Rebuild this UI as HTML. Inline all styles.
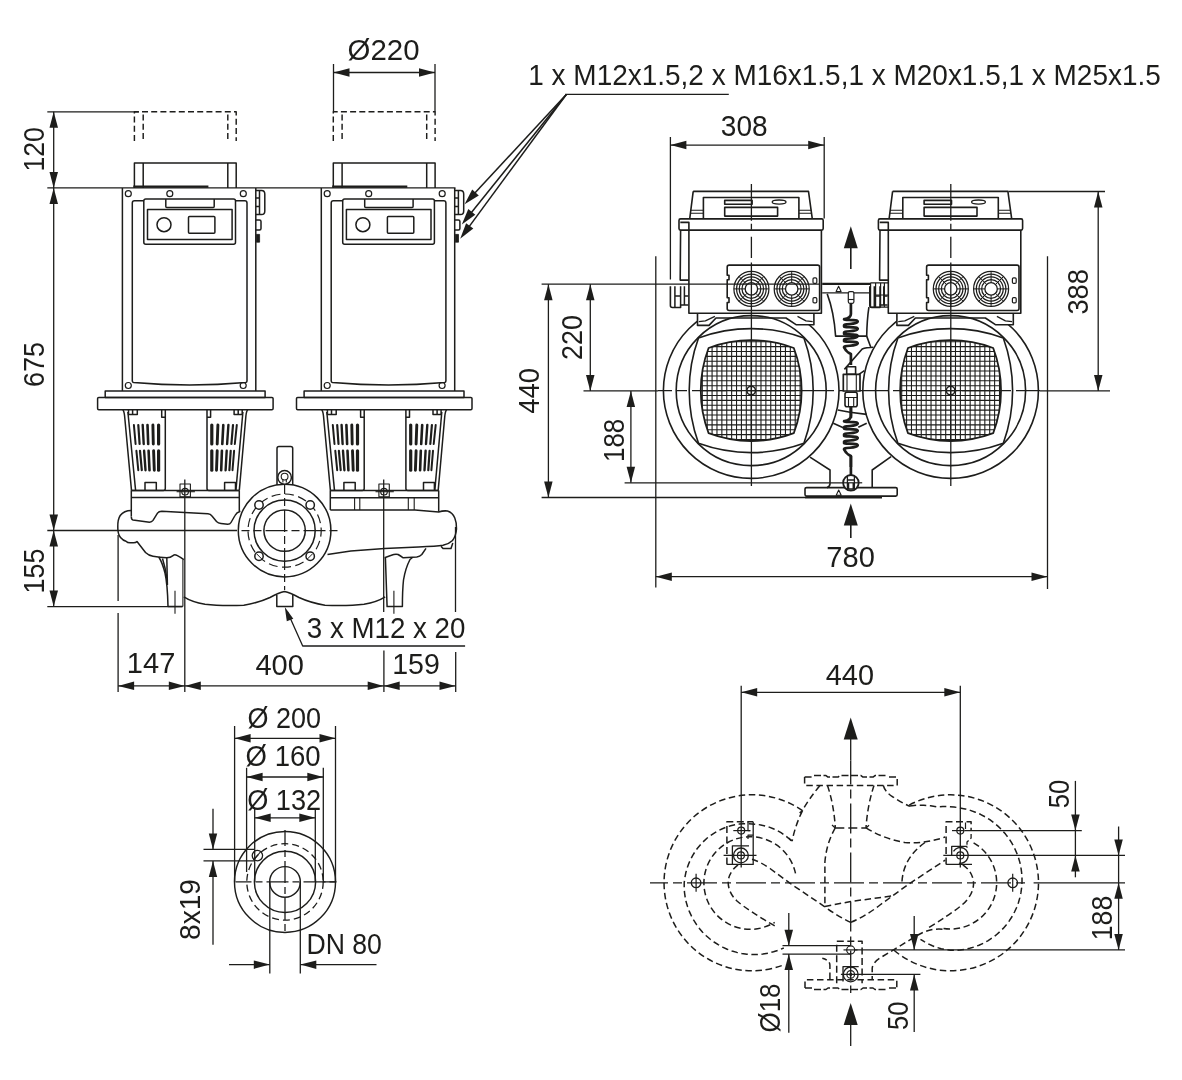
<!DOCTYPE html>
<html><head><meta charset="utf-8"><title>Pump dimension drawing</title>
<style>
html,body{margin:0;padding:0;background:#fff;}
body{width:1182px;height:1080px;overflow:hidden;font-family:"Liberation Sans",sans-serif;}
svg{display:block;will-change:transform}
svg text{font-family:"Liberation Sans",sans-serif;fill:#1d1d1b;stroke:none;}
</style></head><body>
<svg width="1182" height="1080" viewBox="0 0 1182 1080" fill="none" stroke="#1d1d1b" stroke-width="1.5" stroke-linecap="butt" stroke-linejoin="round">
<rect x="0" y="0" width="1182" height="1080" fill="#fff" stroke="none"/>
<g id="dims-front" stroke-width="1.3">
<line x1="47.3" y1="111.8" x2="139.0" y2="111.8" />
<line x1="47.3" y1="187.9" x2="455.5" y2="187.9" />
<line x1="53.7" y1="111.8" x2="53.7" y2="187.9" stroke-width="1.3" />
<polygon points="53.7,187.9 49.5,171.9 58.0,171.9" fill="#1d1d1b" stroke="none"/>
<polygon points="53.7,111.8 58.0,127.8 49.5,127.8" fill="#1d1d1b" stroke="none"/>
<line x1="53.7" y1="187.9" x2="53.7" y2="530.5" stroke-width="1.3" />
<polygon points="53.7,530.5 49.5,514.5 58.0,514.5" fill="#1d1d1b" stroke="none"/>
<polygon points="53.7,187.9 58.0,203.9 49.5,203.9" fill="#1d1d1b" stroke="none"/>
<line x1="53.7" y1="530.5" x2="53.7" y2="606.6" stroke-width="1.3" />
<polygon points="53.7,606.6 49.5,590.6 58.0,590.6" fill="#1d1d1b" stroke="none"/>
<polygon points="53.7,530.5 58.0,546.5 49.5,546.5" fill="#1d1d1b" stroke="none"/>
<line x1="47.3" y1="530.5" x2="237.0" y2="530.5" />
<line x1="47.3" y1="606.6" x2="182.0" y2="606.6" />
<text x="44.5" y="171.6" font-size="29.5" transform="rotate(-90 44.5 171.6)" textLength="44.5" lengthAdjust="spacingAndGlyphs">120</text>
<text x="43.8" y="387.0" font-size="29.5" transform="rotate(-90 43.8 387.0)" textLength="45" lengthAdjust="spacingAndGlyphs">675</text>
<text x="44.5" y="593.6" font-size="29.5" transform="rotate(-90 44.5 593.6)" textLength="45" lengthAdjust="spacingAndGlyphs">155</text>
<line x1="118.1" y1="535.0" x2="118.1" y2="601.0" />
<line x1="118.1" y1="613.0" x2="118.1" y2="692.0" />
<line x1="184.8" y1="479.5" x2="184.8" y2="692.0" />
<line x1="383.7" y1="479.5" x2="383.7" y2="612.0" />
<line x1="383.9" y1="650.6" x2="383.9" y2="692.0" />
<line x1="455.5" y1="527.0" x2="455.5" y2="612.0" />
<line x1="455.7" y1="652.0" x2="455.7" y2="692.0" />
<line x1="118.1" y1="685.9" x2="184.8" y2="685.9" stroke-width="1.3" />
<polygon points="184.8,685.9 168.8,690.1 168.8,681.6" fill="#1d1d1b" stroke="none"/>
<polygon points="118.1,685.9 134.1,681.6 134.1,690.1" fill="#1d1d1b" stroke="none"/>
<line x1="184.8" y1="685.9" x2="383.7" y2="685.9" stroke-width="1.3" />
<polygon points="383.7,685.9 367.7,690.1 367.7,681.6" fill="#1d1d1b" stroke="none"/>
<polygon points="184.8,685.9 200.8,681.6 200.8,690.1" fill="#1d1d1b" stroke="none"/>
<line x1="383.7" y1="685.9" x2="455.5" y2="685.9" stroke-width="1.3" />
<polygon points="455.5,685.9 439.5,690.1 439.5,681.6" fill="#1d1d1b" stroke="none"/>
<polygon points="383.7,685.9 399.7,681.6 399.7,690.1" fill="#1d1d1b" stroke="none"/>
<text x="126.8" y="673.0" font-size="29" textLength="48.5" lengthAdjust="spacingAndGlyphs">147</text>
<text x="255.4" y="675.2" font-size="29" textLength="48.5" lengthAdjust="spacingAndGlyphs">400</text>
<text x="392.2" y="673.5" font-size="29" textLength="47.7" lengthAdjust="spacingAndGlyphs">159</text>
<text x="306.8" y="637.9" font-size="29" textLength="158.5" lengthAdjust="spacingAndGlyphs">3 x M12 x 20</text>
<path d="M465.1,646 L302.7,646 L287.5,612" />
<polygon points="284.8,607.0 293.3,618.7 286.8,621.3" fill="#1d1d1b" stroke="none"/>
<line x1="333.5" y1="64.0" x2="333.5" y2="111.8" />
<line x1="435.0" y1="64.0" x2="435.0" y2="111.8" />
<line x1="333.5" y1="72.5" x2="435.0" y2="72.5" stroke-width="1.3" />
<polygon points="435.0,72.5 419.0,76.8 419.0,68.2" fill="#1d1d1b" stroke="none"/>
<polygon points="333.5,72.5 349.5,68.2 349.5,76.8" fill="#1d1d1b" stroke="none"/>
<text x="347.6" y="60.2" font-size="28.8" textLength="72" lengthAdjust="spacingAndGlyphs">Ø220</text>
</g>
<g id="front">
<g transform="translate(0,0)">
<path d="M134.4,141 V111.8 H236.2 V141" stroke-width="1.45" stroke-dasharray="6 3.2" />
<path d="M143.2,139 V111.8 M227.8,139 V111.8" stroke-width="1.45" stroke-dasharray="6 3.2" />
<path d="M134.4,187.9 V163.1 H236.2 V187.9" />
<path d="M143.2,163.1 V187.9 M227.8,163.1 V187.9" />
<line x1="133.3" y1="186.6" x2="208.4" y2="186.6" stroke-width="2.4" />
<path d="M122.4,187.9 V391 M255.8,187.9 V391" />
<path d="M143.8,200.8 H134.5 Q132.3,200.8 132.3,203 V381 Q132.3,382.3 133.6,382.5 Q189.6,387.5 245.7,382.5 Q247,382.3 247,381 V203 Q247,200.8 244.8,200.8 H235.5" />
<circle cx="128.3" cy="193.7" r="3.0" stroke-width="1.2" />
<circle cx="169.8" cy="193.7" r="3.0" stroke-width="1.2" />
<circle cx="243.3" cy="193.7" r="3.0" stroke-width="1.2" />
<circle cx="128.3" cy="385.5" r="3.0" stroke-width="1.2" />
<circle cx="243.2" cy="385.5" r="3.0" stroke-width="1.2" />
<rect x="143.8" y="199.0" width="91.7" height="45.3" rx="2"/>
<rect x="147.5" y="209.5" width="84.6" height="30.1"/>
<path d="M165.8,199 V206.5 Q165.8,207.5 166.8,207.5 H213.2 Q214.2,207.5 214.2,206.5 V199" />
<circle cx="164.0" cy="224.7" r="7.0" />
<rect x="188.5" y="216.6" width="26.4" height="16.6" rx="1"/>
<path d="M255.8,190.5 H261.5 Q264.8,190.5 264.8,194 V211 Q264.8,214.6 261.5,214.6 H255.8 M259.5,190.5 V214.6 M255.8,198 H259.5 M255.8,206.5 H259.5" />
<path d="M255.8,220 H259.5 Q261,220 261,221.5 V228.5 Q261,230 259.5,230 H255.8" />
<rect x="256.4" y="234.4" width="3.2" height="7.8" stroke-width="0.8" fill="#1d1d1b"/>
<rect x="105.2" y="391.0" width="159.9" height="6.4"/>
<rect x="97.6" y="397.4" width="175.5" height="12.4" rx="1.2"/>
<path d="M122.8,409.8 Q124,411 124.6,416 L131.5,490.4" />
<path d="M127.9,412 L135.6,490.4" />
<path d="M165.3,409.8 V488.4 Q165.3,490.4 163.3,490.4 H131.5" />
<path d="M128.5,409.8 V414.6 H137.3 V409.8 M132.6,409.8 V414.6" />
<path d="M161.7,409.8 V417.3 H165.3" />
<path d="M145,490.4 V482.6 H156.3 V490.4" />
<path d="M247.7,409.8 Q246.5,411 245.9,416 L239.3,490.4" />
<path d="M242.9,412 L235.9,490.4" />
<path d="M207,409.8 V488.4 Q207,490.4 209,490.4 H239.3" />
<path d="M242.2,409.8 V414.6 H234.1 V409.8 M238.2,409.8 V414.6" />
<path d="M210.6,409.8 V417.3 H207" />
<path d="M224.6,490.4 V482.6 H235.5 V490.4" />
<line x1="133.9" y1="425.0" x2="135.6" y2="444.0" stroke-width="2.0" stroke-linecap="round"/>
<line x1="136.4" y1="450.8" x2="138.3" y2="470.2" stroke-width="2.0" stroke-linecap="round"/>
<line x1="138.3" y1="425.0" x2="139.6" y2="444.0" stroke-width="2.2" stroke-linecap="round"/>
<line x1="140.0" y1="450.8" x2="141.8" y2="470.2" stroke-width="2.2" stroke-linecap="round"/>
<line x1="142.7" y1="425.0" x2="143.7" y2="444.0" stroke-width="2.4" stroke-linecap="round"/>
<line x1="144.1" y1="450.8" x2="145.5" y2="470.2" stroke-width="2.4" stroke-linecap="round"/>
<line x1="147.5" y1="425.0" x2="148.2" y2="444.0" stroke-width="2.6" stroke-linecap="round"/>
<line x1="148.6" y1="450.8" x2="149.5" y2="470.2" stroke-width="2.6" stroke-linecap="round"/>
<line x1="152.9" y1="425.0" x2="153.3" y2="444.0" stroke-width="2.9" stroke-linecap="round"/>
<line x1="153.6" y1="450.8" x2="154.3" y2="470.2" stroke-width="2.9" stroke-linecap="round"/>
<line x1="158.6" y1="425.0" x2="158.6" y2="444.0" stroke-width="3.2" stroke-linecap="round"/>
<line x1="158.6" y1="450.8" x2="158.6" y2="470.2" stroke-width="3.2" stroke-linecap="round"/>
<line x1="211.8" y1="425.0" x2="211.8" y2="444.0" stroke-width="3.2" stroke-linecap="round"/>
<line x1="211.8" y1="450.8" x2="211.8" y2="470.2" stroke-width="3.2" stroke-linecap="round"/>
<line x1="217.9" y1="425.0" x2="217.2" y2="444.0" stroke-width="2.9" stroke-linecap="round"/>
<line x1="217.2" y1="450.8" x2="216.5" y2="470.2" stroke-width="2.9" stroke-linecap="round"/>
<line x1="223.3" y1="425.0" x2="222.3" y2="444.0" stroke-width="2.6" stroke-linecap="round"/>
<line x1="221.9" y1="450.8" x2="221.2" y2="470.2" stroke-width="2.6" stroke-linecap="round"/>
<line x1="228.4" y1="425.0" x2="227.1" y2="444.0" stroke-width="2.4" stroke-linecap="round"/>
<line x1="226.7" y1="450.8" x2="225.6" y2="470.2" stroke-width="2.4" stroke-linecap="round"/>
<line x1="233.0" y1="425.0" x2="231.4" y2="444.0" stroke-width="2.2" stroke-linecap="round"/>
<line x1="230.7" y1="450.8" x2="229.4" y2="470.2" stroke-width="2.2" stroke-linecap="round"/>
<line x1="236.8" y1="425.0" x2="234.8" y2="444.0" stroke-width="2.0" stroke-linecap="round"/>
<line x1="234.1" y1="450.8" x2="232.5" y2="470.2" stroke-width="2.0" stroke-linecap="round"/>
<rect x="180.0" y="484.0" width="10.4" height="12.8" stroke-width="1.1"/>
<circle cx="185.1" cy="491.7" r="3.3" stroke-width="1.1" />
<line x1="176.6" y1="491.7" x2="194.9" y2="491.7" stroke-width="1.1" />
</g>
<g transform="translate(198.9,0)">
<path d="M134.4,141 V111.8 H236.2 V141" stroke-width="1.45" stroke-dasharray="6 3.2" />
<path d="M143.2,139 V111.8 M227.8,139 V111.8" stroke-width="1.45" stroke-dasharray="6 3.2" />
<path d="M134.4,187.9 V163.1 H236.2 V187.9" />
<path d="M143.2,163.1 V187.9 M227.8,163.1 V187.9" />
<line x1="133.3" y1="186.6" x2="208.4" y2="186.6" stroke-width="2.4" />
<path d="M122.4,187.9 V391 M255.8,187.9 V391" />
<path d="M143.8,200.8 H134.5 Q132.3,200.8 132.3,203 V381 Q132.3,382.3 133.6,382.5 Q189.6,387.5 245.7,382.5 Q247,382.3 247,381 V203 Q247,200.8 244.8,200.8 H235.5" />
<circle cx="128.3" cy="193.7" r="3.0" stroke-width="1.2" />
<circle cx="169.8" cy="193.7" r="3.0" stroke-width="1.2" />
<circle cx="243.3" cy="193.7" r="3.0" stroke-width="1.2" />
<circle cx="128.3" cy="385.5" r="3.0" stroke-width="1.2" />
<circle cx="243.2" cy="385.5" r="3.0" stroke-width="1.2" />
<rect x="143.8" y="199.0" width="91.7" height="45.3" rx="2"/>
<rect x="147.5" y="209.5" width="84.6" height="30.1"/>
<path d="M165.8,199 V206.5 Q165.8,207.5 166.8,207.5 H213.2 Q214.2,207.5 214.2,206.5 V199" />
<circle cx="164.0" cy="224.7" r="7.0" />
<rect x="188.5" y="216.6" width="26.4" height="16.6" rx="1"/>
<path d="M255.8,190.5 H261.5 Q264.8,190.5 264.8,194 V211 Q264.8,214.6 261.5,214.6 H255.8 M259.5,190.5 V214.6 M255.8,198 H259.5 M255.8,206.5 H259.5" />
<path d="M255.8,220 H259.5 Q261,220 261,221.5 V228.5 Q261,230 259.5,230 H255.8" />
<rect x="256.4" y="234.4" width="3.2" height="7.8" stroke-width="0.8" fill="#1d1d1b"/>
<rect x="105.2" y="391.0" width="159.9" height="6.4"/>
<rect x="97.6" y="397.4" width="175.5" height="12.4" rx="1.2"/>
<path d="M122.8,409.8 Q124,411 124.6,416 L131.5,490.4" />
<path d="M127.9,412 L135.6,490.4" />
<path d="M165.3,409.8 V488.4 Q165.3,490.4 163.3,490.4 H131.5" />
<path d="M128.5,409.8 V414.6 H137.3 V409.8 M132.6,409.8 V414.6" />
<path d="M161.7,409.8 V417.3 H165.3" />
<path d="M145,490.4 V482.6 H156.3 V490.4" />
<path d="M247.7,409.8 Q246.5,411 245.9,416 L239.3,490.4" />
<path d="M242.9,412 L235.9,490.4" />
<path d="M207,409.8 V488.4 Q207,490.4 209,490.4 H239.3" />
<path d="M242.2,409.8 V414.6 H234.1 V409.8 M238.2,409.8 V414.6" />
<path d="M210.6,409.8 V417.3 H207" />
<path d="M224.6,490.4 V482.6 H235.5 V490.4" />
<line x1="133.9" y1="425.0" x2="135.6" y2="444.0" stroke-width="2.0" stroke-linecap="round"/>
<line x1="136.4" y1="450.8" x2="138.3" y2="470.2" stroke-width="2.0" stroke-linecap="round"/>
<line x1="138.3" y1="425.0" x2="139.6" y2="444.0" stroke-width="2.2" stroke-linecap="round"/>
<line x1="140.0" y1="450.8" x2="141.8" y2="470.2" stroke-width="2.2" stroke-linecap="round"/>
<line x1="142.7" y1="425.0" x2="143.7" y2="444.0" stroke-width="2.4" stroke-linecap="round"/>
<line x1="144.1" y1="450.8" x2="145.5" y2="470.2" stroke-width="2.4" stroke-linecap="round"/>
<line x1="147.5" y1="425.0" x2="148.2" y2="444.0" stroke-width="2.6" stroke-linecap="round"/>
<line x1="148.6" y1="450.8" x2="149.5" y2="470.2" stroke-width="2.6" stroke-linecap="round"/>
<line x1="152.9" y1="425.0" x2="153.3" y2="444.0" stroke-width="2.9" stroke-linecap="round"/>
<line x1="153.6" y1="450.8" x2="154.3" y2="470.2" stroke-width="2.9" stroke-linecap="round"/>
<line x1="158.6" y1="425.0" x2="158.6" y2="444.0" stroke-width="3.2" stroke-linecap="round"/>
<line x1="158.6" y1="450.8" x2="158.6" y2="470.2" stroke-width="3.2" stroke-linecap="round"/>
<line x1="211.8" y1="425.0" x2="211.8" y2="444.0" stroke-width="3.2" stroke-linecap="round"/>
<line x1="211.8" y1="450.8" x2="211.8" y2="470.2" stroke-width="3.2" stroke-linecap="round"/>
<line x1="217.9" y1="425.0" x2="217.2" y2="444.0" stroke-width="2.9" stroke-linecap="round"/>
<line x1="217.2" y1="450.8" x2="216.5" y2="470.2" stroke-width="2.9" stroke-linecap="round"/>
<line x1="223.3" y1="425.0" x2="222.3" y2="444.0" stroke-width="2.6" stroke-linecap="round"/>
<line x1="221.9" y1="450.8" x2="221.2" y2="470.2" stroke-width="2.6" stroke-linecap="round"/>
<line x1="228.4" y1="425.0" x2="227.1" y2="444.0" stroke-width="2.4" stroke-linecap="round"/>
<line x1="226.7" y1="450.8" x2="225.6" y2="470.2" stroke-width="2.4" stroke-linecap="round"/>
<line x1="233.0" y1="425.0" x2="231.4" y2="444.0" stroke-width="2.2" stroke-linecap="round"/>
<line x1="230.7" y1="450.8" x2="229.4" y2="470.2" stroke-width="2.2" stroke-linecap="round"/>
<line x1="236.8" y1="425.0" x2="234.8" y2="444.0" stroke-width="2.0" stroke-linecap="round"/>
<line x1="234.1" y1="450.8" x2="232.5" y2="470.2" stroke-width="2.0" stroke-linecap="round"/>
<rect x="180.0" y="484.0" width="10.4" height="12.8" stroke-width="1.1"/>
<circle cx="185.1" cy="491.7" r="3.3" stroke-width="1.1" />
<line x1="176.6" y1="491.7" x2="194.9" y2="491.7" stroke-width="1.1" />
</g>
<path d="M131.3,490.4 V516.4" />
<line x1="131.3" y1="497.5" x2="239.3" y2="497.5" />
<line x1="131.3" y1="490.4" x2="239.3" y2="490.4" />
<path d="M239.3,490.4 V511.2" />
<path d="M131.3,516.4 Q131.3,519.5 133,519.9 L149.5,522.2 Q151.8,522.2 153,520.4 L157.5,513.2 Q158.8,511.3 161.8,511.3 L184.6,512.5 L208,513.7 Q210.4,513.9 212,516 L216.5,521.5 Q218.2,523.3 221,523.6 L227.7,524.3 Q230,524.3 231,522.5 L235,515.5 Q236.5,512.5 240.4,511.3" />
<path d="M131.3,510.5 Q124,510.5 120.2,515.5 Q117.6,519.5 117.8,527 Q117.6,534 120.5,537.5 Q123,540.5 126,541.2 Q127.5,542.8 130,542.8 H133.5 Q135.8,542.8 137,541.5 L145.5,552.5 Q148.5,555.5 153,556.2 L160,557.2" />
<path d="M160,557.2 Q163.2,557.5 166.8,557.8 Q170.5,557.6 173,555.6 Q174.6,554.3 176.5,555.2 Q180,557 183.8,559.6" />
<path d="M158.8,557 Q162.5,563 165,573 Q167.5,584 168,606.6 H182.9" />
<path d="M162.5,558.5 Q165.5,568 167.2,580" />
<path d="M166.8,557.8 L167.4,585" />
<path d="M182.9,559.5 V606.6" stroke-width="1.1" />
<line x1="175.0" y1="590.8" x2="175.0" y2="613.7" stroke-width="1.1" />
<path d="M183.8,596.8 Q192,602 205,604.2 Q220,606 243.8,605.2 Q258,603 270,597.5 Q279,592.8 284.5,591.6 Q290,592.8 299,597.5 Q311,603 325,605.2 Q349,606 364,604.2 Q377,602 385.2,596.8" />
<path d="M276.8,595 V606.6 H292.8 V595" />
<circle cx="284.6" cy="530.6" r="46.3" fill="#fff"/>
<circle cx="284.6" cy="530.6" r="30.6" />
<circle cx="284.6" cy="530.6" r="20.7" />
<circle cx="284.6" cy="530.6" r="36.6" stroke-width="1.2" stroke-dasharray="9 4.5" stroke-dashoffset="3"/>
<circle cx="259.0" cy="505.0" r="4.2" fill="#fff" />
<circle cx="259.0" cy="556.2" r="4.2" fill="#fff" />
<circle cx="310.2" cy="505.0" r="4.2" fill="#fff" />
<circle cx="310.2" cy="556.2" r="4.2" fill="#fff" />
<line x1="256.5" y1="553.7" x2="261.8" y2="559.0" stroke-width="1" />
<line x1="312.7" y1="553.7" x2="307.4" y2="559.0" stroke-width="1" />
<line x1="241.5" y1="530.6" x2="341.5" y2="530.6" stroke-width="1.2" stroke-dasharray="22 4 8 4" stroke-dashoffset="14"/>
<line x1="284.6" y1="482.0" x2="284.6" y2="590.0" stroke-width="1.2" stroke-dasharray="22 4 8 4" stroke-dashoffset="10"/>
<path d="M277,485 V448.4 Q277,446.4 279,446.4 H290.7 Q292.7,446.4 292.7,448.4 V485" />
<circle cx="284.6" cy="477.4" r="6.8" fill="#fff" />
<circle cx="284.6" cy="476.6" r="3.4" stroke-width="1.1" />
<path d="M282.9,479 V482.5 M286.3,479 V482.5" stroke-width="1.1" />
<path d="M330.3,490.4 V510" />
<line x1="330.3" y1="497.8" x2="438.7" y2="497.8" />
<line x1="330.3" y1="490.4" x2="438.7" y2="490.4" />
<path d="M438.7,490.4 V511.8" />
<path d="M354.6,497.8 V510 M359.8,497.8 V510 M408.3,497.8 V510 M414.2,497.8 V510" stroke-width="1.1" />
<path d="M330.3,510 H415 L438.7,512 Q443,510.5 447.5,511 Q452.5,512.5 454.8,518 Q456.8,523 456.5,529 Q456,536 452.5,540.5 Q449,544 443,545.3 Q437,546.3 418.4,546.9 L384.6,548.6 L350.8,551 L327.5,554.5" />
<path d="M441,546.2 L443,548.6 H451 L452.8,543" />
<path d="M384.6,557.8 Q388,556.5 391.4,555.3 Q395,553.8 398.1,554.5 Q400.5,556 403.2,557.8 L416.8,557 Q420,556.3 421.8,554.5 L426,548.3" />
<path d="M385.4,557.8 L387.1,606.6 H402.4 Q402.4,590 403.5,580 Q405.5,568 410,559.5 L412.5,557.5" />
<line x1="393.9" y1="590.8" x2="393.9" y2="613.7" stroke-width="1.1" />
</g>
<g id="flange" stroke-width="1.3">
<circle cx="285.0" cy="881.9" r="50.5" stroke-width="1.45" />
<circle cx="285.0" cy="881.9" r="30.6" stroke-width="1.45" />
<circle cx="285.0" cy="881.9" r="15.3" stroke-width="1.45" />
<circle cx="285.0" cy="881.9" r="38.2" stroke-width="1.3" stroke-dasharray="7 4" />
<circle cx="257.4" cy="855.6" r="5.2" stroke-width="1.3" />
<line x1="253.6" y1="860.2" x2="261.2" y2="851.0" stroke-width="1.1" />
<line x1="235.5" y1="881.9" x2="338.5" y2="881.9" stroke-width="1.3" stroke-dasharray="22 4 7 4" stroke-dashoffset="6"/>
<line x1="285.0" y1="830.0" x2="285.0" y2="931.0" stroke-width="1.3" stroke-dasharray="22 4 7 4" stroke-dashoffset="6"/>
<line x1="234.6" y1="726.0" x2="234.6" y2="881.9" />
<line x1="335.5" y1="726.0" x2="335.5" y2="881.9" />
<line x1="234.6" y1="738.3" x2="335.5" y2="738.3" stroke-width="1.3" />
<polygon points="335.5,738.3 319.5,742.5 319.5,734.0" fill="#1d1d1b" stroke="none"/>
<polygon points="234.6,738.3 250.6,734.0 250.6,742.5" fill="#1d1d1b" stroke="none"/>
<text x="247.6" y="728.2" font-size="29" textLength="73.5" lengthAdjust="spacingAndGlyphs">Ø 200</text>
<line x1="246.6" y1="767.8" x2="246.6" y2="872.0" />
<path d="M323.3,767.8 V881.9 H335.5" />
<line x1="246.6" y1="777.0" x2="323.3" y2="777.0" stroke-width="1.3" />
<polygon points="323.3,777.0 307.3,781.2 307.3,772.8" fill="#1d1d1b" stroke="none"/>
<polygon points="246.6,777.0 262.6,772.8 262.6,781.2" fill="#1d1d1b" stroke="none"/>
<text x="245.6" y="766.0" font-size="29" textLength="75" lengthAdjust="spacingAndGlyphs">Ø 160</text>
<line x1="254.7" y1="808.0" x2="254.7" y2="881.9" />
<line x1="315.3" y1="808.0" x2="315.3" y2="881.9" />
<line x1="254.7" y1="817.8" x2="315.3" y2="817.8" stroke-width="1.3" />
<polygon points="315.3,817.8 299.3,822.0 299.3,813.5" fill="#1d1d1b" stroke="none"/>
<polygon points="254.7,817.8 270.7,813.5 270.7,822.0" fill="#1d1d1b" stroke="none"/>
<text x="247.2" y="809.6" font-size="29" textLength="74" lengthAdjust="spacingAndGlyphs">Ø 132</text>
<line x1="269.8" y1="881.9" x2="269.8" y2="973.5" />
<line x1="300.3" y1="881.9" x2="300.3" y2="973.5" />
<line x1="229.0" y1="964.6" x2="269.8" y2="964.6" />
<polygon points="269.8,964.6 253.8,968.9 253.8,960.4" fill="#1d1d1b" stroke="none"/>
<line x1="300.3" y1="964.6" x2="376.5" y2="964.6" />
<polygon points="300.3,964.6 316.3,960.4 316.3,968.9" fill="#1d1d1b" stroke="none"/>
<text x="306.4" y="954.0" font-size="29" textLength="75.5" lengthAdjust="spacingAndGlyphs">DN 80</text>
<line x1="203.5" y1="849.4" x2="254.0" y2="849.4" />
<line x1="203.5" y1="860.9" x2="254.0" y2="860.9" />
<line x1="213.0" y1="808.7" x2="213.0" y2="849.4" />
<polygon points="213.0,849.4 208.8,833.4 217.2,833.4" fill="#1d1d1b" stroke="none"/>
<line x1="213.0" y1="860.9" x2="213.0" y2="944.8" />
<polygon points="213.0,860.9 217.2,876.9 208.8,876.9" fill="#1d1d1b" stroke="none"/>
<text x="199.6" y="940.0" font-size="29.5" transform="rotate(-90 199.6 940.0)" textLength="61" lengthAdjust="spacingAndGlyphs">8x19</text>
</g>
<defs>
<clipPath id="gc1"><path d="M708.6,348.0 A120,120 0 0 1 793.8,348.0 A120,120 0 0 1 793.8,433.2 A120,120 0 0 1 708.6,433.2 A120,120 0 0 1 708.6,348.0 Z"/></clipPath>
<clipPath id="gc2"><path d="M908.0,348.0 A120,120 0 0 1 993.2,348.0 A120,120 0 0 1 993.2,433.2 A120,120 0 0 1 908.0,433.2 A120,120 0 0 1 908.0,348.0 Z"/></clipPath>
</defs>
<g id="top" stroke-width="1.6">
<path d="M810,457.2 L830,470 V484 Q829.5,487 827,487.6" />
<path d="M891.1,456.7 L872.2,470 V487.6" />
<rect x="805.0" y="487.6" width="92.2" height="8.5" rx="1.5"/>
<line x1="805.0" y1="497.4" x2="882.0" y2="497.4" stroke-width="2.0" />
<path d="M836.2,495.3 L838.7,490 L841.2,495.3 Z" stroke-width="1.1" />
<g transform="translate(0.0,0)">
<circle cx="751.2" cy="390.6" r="87.8" />
<path d="M697.5,312.7 V325.4 H709 L716,318 H786 L796,324.7 H813.9 V312.7 Z" fill="#fff" />
<path d="M698.8,321.6 L705.4,320.9 L714.9,316.4 M812.7,321.6 L806,320.9 L797.5,316.4" stroke-width="1.3" />
<circle cx="751.2" cy="390.6" r="75.0" />
<path d="M698.5,337.9 A154,154 0 0 1 803.9,337.9 A154,154 0 0 1 803.9,443.3 A154,154 0 0 1 698.5,443.3 A154,154 0 0 1 698.5,337.9 Z" />
<path d="M693.2,191.4 H808.5 L812.3,218.9 M689.7,218.9 L693.2,191.4" />
<path d="M703.4,218.9 V197.5 H798.9 V218.9" />
<rect x="724.7" y="200.4" width="27.4" height="3.8" stroke-width="1.6"/>
<rect x="724.7" y="207.4" width="52.9" height="8.7"/>
<ellipse cx="779.1" cy="202.1" rx="6.9" ry="2.1" stroke-width="1.3"/>
<path d="M690.6,210.3 H703.4 M690.2,213.3 H703.4 M798.9,210.3 H811.2 M798.9,213.3 H811.6" stroke-width="1.1" />
<path d="M688.9,230.1 V313.3 H821.4 V230.1" fill="#fff" />
<rect x="679.0" y="218.9" width="144.2" height="11.2" rx="1.5" fill="#fff"/>
<path d="M680.6,230.1 L680.2,280.1 H688.9 M680.3,222.4 H688.9 V230.1" />
<path d="M670.4,286.2 V305.5 Q670.4,307.5 672.4,307.5 H680.6 V305 H688.2" />
<path d="M674.9,286.2 V307.5 M680.6,286.2 V305 M684.4,286.2 V305 M674.9,296 H680.6 M684.4,296 H688.2" stroke-width="1.5" />
<path d="M729.2,265.1 H817.6 Q819.6,265.1 819.6,267.1 V308.5 Q819.6,310.5 817.6,310.5 H729.2 Q727.2,310.5 727.2,308.5 V302.5 H729 V297.8 H727.2 V279.8 H729 V275.2 H727.2 V267.1 Q727.2,265.1 729.2,265.1 Z" fill="#fff" />
<circle cx="751.4" cy="288.9" r="17.5" stroke-width="1.25" />
<circle cx="751.4" cy="288.9" r="14.8" stroke-width="1.25" />
<circle cx="751.4" cy="288.9" r="12.1" stroke-width="1.25" />
<circle cx="751.4" cy="288.9" r="9.4" stroke-width="1.25" />
<circle cx="751.4" cy="288.9" r="6.2" stroke-width="1.3" />
<line x1="757.6" y1="288.9" x2="768.9" y2="288.9" stroke-width="1.0" />
<line x1="755.8" y1="293.3" x2="763.8" y2="301.3" stroke-width="1.0" />
<line x1="751.4" y1="295.1" x2="751.4" y2="306.4" stroke-width="1.0" />
<line x1="747.0" y1="293.3" x2="739.0" y2="301.3" stroke-width="1.0" />
<line x1="745.2" y1="288.9" x2="733.9" y2="288.9" stroke-width="1.0" />
<line x1="747.0" y1="284.5" x2="739.0" y2="276.5" stroke-width="1.0" />
<line x1="751.4" y1="282.7" x2="751.4" y2="271.4" stroke-width="1.0" />
<line x1="755.8" y1="284.5" x2="763.8" y2="276.5" stroke-width="1.0" />
<circle cx="791.7" cy="288.9" r="17.5" stroke-width="1.25" />
<circle cx="791.7" cy="288.9" r="14.8" stroke-width="1.25" />
<circle cx="791.7" cy="288.9" r="12.1" stroke-width="1.25" />
<circle cx="791.7" cy="288.9" r="9.4" stroke-width="1.25" />
<circle cx="791.7" cy="288.9" r="6.2" stroke-width="1.3" />
<line x1="797.9" y1="288.9" x2="809.2" y2="288.9" stroke-width="1.0" />
<line x1="796.1" y1="293.3" x2="804.1" y2="301.3" stroke-width="1.0" />
<line x1="791.7" y1="295.1" x2="791.7" y2="306.4" stroke-width="1.0" />
<line x1="787.3" y1="293.3" x2="779.3" y2="301.3" stroke-width="1.0" />
<line x1="785.5" y1="288.9" x2="774.2" y2="288.9" stroke-width="1.0" />
<line x1="787.3" y1="284.5" x2="779.3" y2="276.5" stroke-width="1.0" />
<line x1="791.7" y1="282.7" x2="791.7" y2="271.4" stroke-width="1.0" />
<line x1="796.1" y1="284.5" x2="804.1" y2="276.5" stroke-width="1.0" />
<rect x="813.0" y="277.8" width="3.8" height="5.6" rx="1.2" stroke-width="1.2"/>
<rect x="813.0" y="297.6" width="3.8" height="5.3" rx="1.2" stroke-width="1.2"/>
<g clip-path="url(#gc1)" stroke-width="1.1">
<path d="M697.41,338.6 V442.6 M699.2,336.81 H803.2 M702.30,338.6 V442.6 M699.2,341.70 H803.2 M707.19,338.6 V442.6 M699.2,346.59 H803.2 M712.08,338.6 V442.6 M699.2,351.48 H803.2 M716.97,338.6 V442.6 M699.2,356.37 H803.2 M721.86,338.6 V442.6 M699.2,361.26 H803.2 M726.75,338.6 V442.6 M699.2,366.15 H803.2 M731.64,338.6 V442.6 M699.2,371.04 H803.2 M736.53,338.6 V442.6 M699.2,375.93 H803.2 M741.42,338.6 V442.6 M699.2,380.82 H803.2 M746.31,338.6 V442.6 M699.2,385.71 H803.2 M751.20,338.6 V442.6 M699.2,390.60 H803.2 M756.09,338.6 V442.6 M699.2,395.49 H803.2 M760.98,338.6 V442.6 M699.2,400.38 H803.2 M765.87,338.6 V442.6 M699.2,405.27 H803.2 M770.76,338.6 V442.6 M699.2,410.16 H803.2 M775.65,338.6 V442.6 M699.2,415.05 H803.2 M780.54,338.6 V442.6 M699.2,419.94 H803.2 M785.43,338.6 V442.6 M699.2,424.83 H803.2 M790.32,338.6 V442.6 M699.2,429.72 H803.2 M795.21,338.6 V442.6 M699.2,434.61 H803.2 M800.10,338.6 V442.6 M699.2,439.50 H803.2 M804.99,338.6 V442.6 M699.2,444.39 H803.2 " />
</g>
<path d="M708.6,348.0 A120,120 0 0 1 793.8,348.0 A120,120 0 0 1 793.8,433.2 A120,120 0 0 1 708.6,433.2 A120,120 0 0 1 708.6,348.0 Z" stroke-width="1.8"/>
<circle cx="751.2" cy="390.6" r="4.3" stroke-width="1.5" />
</g>
<g transform="translate(199.4,0)">
<circle cx="751.2" cy="390.6" r="87.8" />
<path d="M697.5,312.7 V325.4 H709 L716,318 H786 L796,324.7 H813.9 V312.7 Z" fill="#fff" />
<path d="M698.8,321.6 L705.4,320.9 L714.9,316.4 M812.7,321.6 L806,320.9 L797.5,316.4" stroke-width="1.3" />
<circle cx="751.2" cy="390.6" r="75.0" />
<path d="M698.5,337.9 A154,154 0 0 1 803.9,337.9 A154,154 0 0 1 803.9,443.3 A154,154 0 0 1 698.5,443.3 A154,154 0 0 1 698.5,337.9 Z" />
<path d="M693.2,191.4 H808.5 L812.3,218.9 M689.7,218.9 L693.2,191.4" />
<path d="M703.4,218.9 V197.5 H798.9 V218.9" />
<rect x="724.7" y="200.4" width="27.4" height="3.8" stroke-width="1.6"/>
<rect x="724.7" y="207.4" width="52.9" height="8.7"/>
<ellipse cx="779.1" cy="202.1" rx="6.9" ry="2.1" stroke-width="1.3"/>
<path d="M690.6,210.3 H703.4 M690.2,213.3 H703.4 M798.9,210.3 H811.2 M798.9,213.3 H811.6" stroke-width="1.1" />
<path d="M688.9,230.1 V313.3 H821.4 V230.1" fill="#fff" />
<rect x="679.0" y="218.9" width="144.2" height="11.2" rx="1.5" fill="#fff"/>
<path d="M680.6,230.1 L680.2,280.1 H688.9 M680.3,222.4 H688.9 V230.1" />
<path d="M670.4,286.2 V305.5 Q670.4,307.5 672.4,307.5 H680.6 V305 H688.2" />
<path d="M674.9,286.2 V307.5 M680.6,286.2 V305 M684.4,286.2 V305 M674.9,296 H680.6 M684.4,296 H688.2" stroke-width="1.5" />
<path d="M729.2,265.1 H817.6 Q819.6,265.1 819.6,267.1 V308.5 Q819.6,310.5 817.6,310.5 H729.2 Q727.2,310.5 727.2,308.5 V302.5 H729 V297.8 H727.2 V279.8 H729 V275.2 H727.2 V267.1 Q727.2,265.1 729.2,265.1 Z" fill="#fff" />
<circle cx="751.4" cy="288.9" r="17.5" stroke-width="1.25" />
<circle cx="751.4" cy="288.9" r="14.8" stroke-width="1.25" />
<circle cx="751.4" cy="288.9" r="12.1" stroke-width="1.25" />
<circle cx="751.4" cy="288.9" r="9.4" stroke-width="1.25" />
<circle cx="751.4" cy="288.9" r="6.2" stroke-width="1.3" />
<line x1="757.6" y1="288.9" x2="768.9" y2="288.9" stroke-width="1.0" />
<line x1="755.8" y1="293.3" x2="763.8" y2="301.3" stroke-width="1.0" />
<line x1="751.4" y1="295.1" x2="751.4" y2="306.4" stroke-width="1.0" />
<line x1="747.0" y1="293.3" x2="739.0" y2="301.3" stroke-width="1.0" />
<line x1="745.2" y1="288.9" x2="733.9" y2="288.9" stroke-width="1.0" />
<line x1="747.0" y1="284.5" x2="739.0" y2="276.5" stroke-width="1.0" />
<line x1="751.4" y1="282.7" x2="751.4" y2="271.4" stroke-width="1.0" />
<line x1="755.8" y1="284.5" x2="763.8" y2="276.5" stroke-width="1.0" />
<circle cx="791.7" cy="288.9" r="17.5" stroke-width="1.25" />
<circle cx="791.7" cy="288.9" r="14.8" stroke-width="1.25" />
<circle cx="791.7" cy="288.9" r="12.1" stroke-width="1.25" />
<circle cx="791.7" cy="288.9" r="9.4" stroke-width="1.25" />
<circle cx="791.7" cy="288.9" r="6.2" stroke-width="1.3" />
<line x1="797.9" y1="288.9" x2="809.2" y2="288.9" stroke-width="1.0" />
<line x1="796.1" y1="293.3" x2="804.1" y2="301.3" stroke-width="1.0" />
<line x1="791.7" y1="295.1" x2="791.7" y2="306.4" stroke-width="1.0" />
<line x1="787.3" y1="293.3" x2="779.3" y2="301.3" stroke-width="1.0" />
<line x1="785.5" y1="288.9" x2="774.2" y2="288.9" stroke-width="1.0" />
<line x1="787.3" y1="284.5" x2="779.3" y2="276.5" stroke-width="1.0" />
<line x1="791.7" y1="282.7" x2="791.7" y2="271.4" stroke-width="1.0" />
<line x1="796.1" y1="284.5" x2="804.1" y2="276.5" stroke-width="1.0" />
<rect x="813.0" y="277.8" width="3.8" height="5.6" rx="1.2" stroke-width="1.2"/>
<rect x="813.0" y="297.6" width="3.8" height="5.3" rx="1.2" stroke-width="1.2"/>
<g clip-path="url(#gc1)" stroke-width="1.1">
<path d="M697.41,338.6 V442.6 M699.2,336.81 H803.2 M702.30,338.6 V442.6 M699.2,341.70 H803.2 M707.19,338.6 V442.6 M699.2,346.59 H803.2 M712.08,338.6 V442.6 M699.2,351.48 H803.2 M716.97,338.6 V442.6 M699.2,356.37 H803.2 M721.86,338.6 V442.6 M699.2,361.26 H803.2 M726.75,338.6 V442.6 M699.2,366.15 H803.2 M731.64,338.6 V442.6 M699.2,371.04 H803.2 M736.53,338.6 V442.6 M699.2,375.93 H803.2 M741.42,338.6 V442.6 M699.2,380.82 H803.2 M746.31,338.6 V442.6 M699.2,385.71 H803.2 M751.20,338.6 V442.6 M699.2,390.60 H803.2 M756.09,338.6 V442.6 M699.2,395.49 H803.2 M760.98,338.6 V442.6 M699.2,400.38 H803.2 M765.87,338.6 V442.6 M699.2,405.27 H803.2 M770.76,338.6 V442.6 M699.2,410.16 H803.2 M775.65,338.6 V442.6 M699.2,415.05 H803.2 M780.54,338.6 V442.6 M699.2,419.94 H803.2 M785.43,338.6 V442.6 M699.2,424.83 H803.2 M790.32,338.6 V442.6 M699.2,429.72 H803.2 M795.21,338.6 V442.6 M699.2,434.61 H803.2 M800.10,338.6 V442.6 M699.2,439.50 H803.2 M804.99,338.6 V442.6 M699.2,444.39 H803.2 " />
</g>
<path d="M708.6,348.0 A120,120 0 0 1 793.8,348.0 A120,120 0 0 1 793.8,433.2 A120,120 0 0 1 708.6,433.2 A120,120 0 0 1 708.6,348.0 Z" stroke-width="1.8"/>
<circle cx="751.2" cy="390.6" r="4.3" stroke-width="1.5" />
</g>
<path d="M751.4,184 V220.7 M751.4,223.7 V229.8 M751.4,236.7 V258 M751.4,262.6 V486" stroke-width="1.3" />
<path d="M950.8,184 V220.7 M950.8,223.7 V229.8 M950.8,236.7 V258 M950.8,262.6 V486" stroke-width="1.3" />
<line x1="658.0" y1="390.6" x2="1040.0" y2="390.6" stroke-width="1.3" stroke-dasharray="34 5 10 5" stroke-dashoffset="20"/>
<line x1="1040.0" y1="390.9" x2="1110.0" y2="390.9" stroke-width="1.3" />
<line x1="822.2" y1="283.9" x2="870.6" y2="283.9" stroke-width="2.4" />
<line x1="822.2" y1="292.8" x2="870.6" y2="292.8" stroke-width="1.3" />
<path d="M836.1,291.6 L838.6,286.3 L841.1,291.6 Z" stroke-width="1.1" />
<path d="M870.6,282.8 V307.2 H888.3 M870.6,282.8 H888.3 M875.6,282.8 V307.2 M880.6,282.8 V307.2 M884.4,282.8 V307.2 M875.6,295 H888.3" stroke-width="1.2" />
<path d="M827.2,293.9 Q834,312 835.6,336.1 H866.7 Q867,320 868.9,307.2" />
<path d="M866.7,336.1 L870.6,346.7 M844.4,369.4 L862.2,349 Q866,347.2 873.3,347.2 M858.9,374.4 L864.4,370.6" />
<path d="M833.3,423.3 L843.3,427.8 M866.7,423.3 L858.3,427.2 M837.8,410 L850,412.2 L866.7,414.4" />
<rect x="848.3" y="291.7" width="5.6" height="11.6" rx="1.5" stroke-width="1.2" fill="#fff"/>
<line x1="848.3" y1="299.5" x2="853.9" y2="299.5" stroke-width="1.1" />
<path d="M850.9,304 V314 Q850.9,318 844.4,319 C841.4,320.5375 860.4,319.0875 857.4,321.9875 C856.4,324.8875 841.4,323.075 844.4,326.25 C841.4,327.7875 860.4,326.3375 857.4,329.2375 C856.4,332.1375 841.4,330.325 844.4,333.5 C841.4,335.0375 860.4,333.5875 857.4,336.4875 C856.4,339.3875 841.4,337.575 844.4,340.75 C841.4,342.2875 860.4,340.8375 857.4,343.7375 C856.4,346.6375 841.4,344.825 844.4,348.0 Q846.4,352 850.9,354 V365" stroke-width="2.7" />
<rect x="846.7" y="366.7" width="8.9" height="7.7" stroke-width="1.6" fill="#fff"/>
<rect x="843.3" y="374.4" width="16.7" height="16.6" stroke-width="1.7" fill="#fff"/>
<path d="M847,374.4 V391 M856.3,374.4 V391" stroke-width="1.1" />
<rect x="845.0" y="392.2" width="12.2" height="14.5" rx="2" stroke-width="1.6" fill="#fff"/>
<path d="M845,397.5 H857.2 M848.5,397.5 V406.7 M853.7,397.5 V406.7" stroke-width="1.1" />
<path d="M850.9,406.7 V418" stroke-width="2.7" />
<path d="M850.9,406 V416 Q850.9,420 844.4,421 C841.4,422.5375 860.4,421.0875 857.4,423.9875 C856.4,426.8875 841.4,425.075 844.4,428.25 C841.4,429.7875 860.4,428.3375 857.4,431.2375 C856.4,434.1375 841.4,432.325 844.4,435.5 C841.4,437.0375 860.4,435.5875 857.4,438.4875 C856.4,441.3875 841.4,439.575 844.4,442.75 C841.4,444.2875 860.4,442.8375 857.4,445.7375 C856.4,448.6375 841.4,446.825 844.4,450.0 Q846.4,454 850.9,456 V467" stroke-width="2.7" />
<path d="M850.9,456 V475" stroke-width="2.7" />
<circle cx="850.9" cy="482.8" r="7.8" stroke-width="1.8" fill="#fff" />
<path d="M847.4,476 V489.6 M854.4,476 V489.6 M847.4,480 H854.4 M848.6,483 V489 H853.2 V483" stroke-width="1.3" />
<line x1="843.0" y1="482.8" x2="862.2" y2="482.8" stroke-width="1.2" />
<line x1="850.8" y1="268.9" x2="850.8" y2="246.0" />
<polygon points="850.8,226.3 857.8,248.3 843.8,248.3" fill="#1d1d1b" stroke="none"/>
<line x1="850.8" y1="538.1" x2="850.8" y2="523.0" />
<polygon points="850.8,503.6 857.8,525.6 843.8,525.6" fill="#1d1d1b" stroke="none"/>
<g stroke-width="1.3">
<line x1="670.4" y1="137.0" x2="670.4" y2="279.5" />
<line x1="824.2" y1="137.0" x2="824.2" y2="218.4" />
<line x1="670.4" y1="145.1" x2="824.2" y2="145.1" stroke-width="1.3" />
<polygon points="824.2,145.1 808.2,149.3 808.2,140.8" fill="#1d1d1b" stroke="none"/>
<polygon points="670.4,145.1 686.4,140.8 686.4,149.3" fill="#1d1d1b" stroke="none"/>
<text x="720.8" y="135.5" font-size="29" textLength="46.8" lengthAdjust="spacingAndGlyphs">308</text>
<line x1="541.6" y1="284.2" x2="820.0" y2="284.2" />
<line x1="541.6" y1="497.5" x2="805.0" y2="497.5" />
<line x1="548.4" y1="284.2" x2="548.4" y2="497.5" stroke-width="1.3" />
<polygon points="548.4,497.5 544.1,481.5 552.6,481.5" fill="#1d1d1b" stroke="none"/>
<polygon points="548.4,284.2 552.6,300.2 544.1,300.2" fill="#1d1d1b" stroke="none"/>
<text x="539.0" y="413.8" font-size="29.5" transform="rotate(-90 539.0 413.8)" textLength="45.8" lengthAdjust="spacingAndGlyphs">440</text>
<line x1="590.3" y1="284.2" x2="590.3" y2="390.9" stroke-width="1.3" />
<polygon points="590.3,390.9 586.0,374.9 594.5,374.9" fill="#1d1d1b" stroke="none"/>
<polygon points="590.3,284.2 594.5,300.2 586.0,300.2" fill="#1d1d1b" stroke="none"/>
<text x="582.2" y="360.0" font-size="29.5" transform="rotate(-90 582.2 360.0)" textLength="45" lengthAdjust="spacingAndGlyphs">220</text>
<line x1="583.5" y1="390.9" x2="658.0" y2="390.9" />
<line x1="630.9" y1="390.9" x2="630.9" y2="482.8" stroke-width="1.3" />
<polygon points="630.9,482.8 626.6,466.8 635.1,466.8" fill="#1d1d1b" stroke="none"/>
<polygon points="630.9,390.9 635.1,406.9 626.6,406.9" fill="#1d1d1b" stroke="none"/>
<text x="623.6" y="462.0" font-size="29.5" transform="rotate(-90 623.6 462.0)" textLength="43.2" lengthAdjust="spacingAndGlyphs">188</text>
<line x1="624.6" y1="482.8" x2="843.0" y2="482.8" />
<line x1="655.8" y1="256.2" x2="655.8" y2="587.6" />
<line x1="1047.5" y1="256.2" x2="1047.5" y2="588.9" />
<line x1="655.8" y1="576.7" x2="1047.5" y2="576.7" stroke-width="1.3" />
<polygon points="1047.5,576.7 1031.5,581.0 1031.5,572.5" fill="#1d1d1b" stroke="none"/>
<polygon points="655.8,576.7 671.8,572.5 671.8,581.0" fill="#1d1d1b" stroke="none"/>
<text x="826.3" y="567.2" font-size="29" textLength="48.5" lengthAdjust="spacingAndGlyphs">780</text>
<line x1="1008.5" y1="191.5" x2="1105.0" y2="191.5" />
<line x1="1098.2" y1="191.5" x2="1098.2" y2="390.9" stroke-width="1.3" />
<polygon points="1098.2,390.9 1094.0,374.9 1102.5,374.9" fill="#1d1d1b" stroke="none"/>
<polygon points="1098.2,191.5 1102.5,207.5 1094.0,207.5" fill="#1d1d1b" stroke="none"/>
<text x="1088.0" y="314.6" font-size="29.5" transform="rotate(-90 1088.0 314.6)" textLength="45.6" lengthAdjust="spacingAndGlyphs">388</text>
<text x="528.3" y="84.7" font-size="29" textLength="632.5" lengthAdjust="spacingAndGlyphs">1 x M12x1.5,2 x M16x1.5,1 x M20x1.5,1 x M25x1.5</text>
<line x1="565.7" y1="94.3" x2="728.8" y2="94.3" />
<line x1="566.5" y1="94.2" x2="470.0" y2="198.3" stroke-width="1.5" />
<polygon points="464.6,204.2 472.2,189.4 478.8,195.5" fill="#1d1d1b" stroke="none"/>
<line x1="566.5" y1="94.2" x2="466.8" y2="218.2" stroke-width="1.5" />
<polygon points="461.8,224.4 468.3,209.1 475.3,214.8" fill="#1d1d1b" stroke="none"/>
<line x1="566.5" y1="94.2" x2="464.9" y2="232.4" stroke-width="1.5" />
<polygon points="460.2,238.8 466.1,223.2 473.3,228.6" fill="#1d1d1b" stroke="none"/>
</g>
</g>
<g id="plan" stroke-width="1.3">
<path d="M802.5,810.7 A88,88 0 1 0 785.0,964.4" stroke-width="1.5" stroke-dasharray="6.5 3.6" />
<path d="M802.4,810.8 L799.6,812.8 M802.4,810.8 Q795,826 792.2,841 M792.2,841 L788.6,838" stroke-width="1.5" stroke-dasharray="6.5 3.6" />
<path d="M791.2,840.7 L788.0,837.8 L784.6,835.1 L781.0,832.7 L777.3,830.6 L773.3,828.7 L769.2,827.1 L765.0,825.9 L760.8,824.9 L756.4,824.3 L752.0,824.0 L747.8,823.7 L743.5,823.8 L739.2,824.1 L735.0,824.8 L730.7,825.8 L726.6,827.1 L722.4,828.7 L718.4,830.6 L714.6,832.8 L710.8,835.3 L707.2,838.0 L703.9,841.1 L700.7,844.4 L697.7,847.9 L695.0,851.7 L692.6,855.7 L690.4,859.8 L688.5,864.2 L686.9,868.6 L685.7,873.3 L684.8,878.0 L684.2,882.8 L684.2,887.6 L684.5,892.5 L685.2,897.3 L686.2,902.1 L687.6,906.8 L689.3,911.4 L691.4,915.9 L693.7,920.2 L696.4,924.4 L699.4,928.4 L702.6,932.2 L706.2,935.7 L710.0,939.0 L714.0,942.0 L718.2,944.7 L722.6,947.1 L727.2,949.2 L732.0,951.0 L736.9,952.4 L741.8,953.5 L746.9,954.2 L752.0,954.6 L757.4,954.5 L762.9,954.0 L768.2,953.1 L773.5,951.8 L778.7,950.1 L783.8,948.0 " stroke-width="1.5" stroke-dasharray="6.5 3.6" />
<path d="M795.5,873.4 A46.3,46.3 0 1 0 774.7,922.3" stroke-width="1.5" stroke-dasharray="6.5 3.6" />
<path d="M738,864.8 Q728,873 728.2,882.8 Q728.5,893 737,901 Q750,912 777.7,927.5" stroke-width="1.5" stroke-dasharray="6.5 3.6" />
<path d="M752,859.3 Q760,861.5 770,868.5 L790.2,883.4 L824.8,906.8 Q838,916.5 850.7,922.4" stroke-width="1.5" stroke-dasharray="6.5 3.6" />
<path d="M804.6,777.1 V785.5 H897.2 V777.1" stroke-width="1.5" stroke-dasharray="6.5 3.6" />
<path d="M804.6,777.1 H812 M814,775.6 H826 L828,777.1 H838 L840,775.6 H861 L863,777.1 H873 L875,775.6 H887 M889,777.1 H897.2" stroke-width="1.5" stroke-dasharray="7 2.5" />
<path d="M827.5,785.5 Q834,805 835.3,827.9 M874,785.5 Q867.5,805 866,827.9" stroke-width="1.5" stroke-dasharray="6.5 3.6" />
<path d="M835.3,827.9 H866" stroke-width="1.5" stroke-dasharray="9 4" />
<path d="M832,825 L835.3,827.9 M869,825.3 L866,827.9" stroke-width="1.3" />
<path d="M820,785.5 Q808,800 802.4,810.8" stroke-width="1.5" stroke-dasharray="6.5 3.6" />
<path d="M883.3,785.5 Q885,792 893,797 Q901,802.5 909.9,806.3" stroke-width="1.5" stroke-dasharray="6.5 3.6" />
<path d="M835.3,827.9 Q826.5,843 824.9,862 V906.2" stroke-width="1.5" stroke-dasharray="6.5 3.6" />
<path d="M824.8,906.4 L850.7,901.5 L891.7,896" stroke-width="1.5" stroke-dasharray="6.5 3.6" />
<path d="M850.7,922.4 Q866,916 880,905 L908.6,884.2 L945.2,860.2" stroke-width="1.5" stroke-dasharray="6.5 3.6" />
<path d="M866,827.9 Q884,839 905,842.5 Q925,844 945.2,837" stroke-width="1.5" stroke-dasharray="6.5 3.6" />
<path d="M925,842.5 Q903,858 901.9,882.8" stroke-width="1.5" stroke-dasharray="6.5 3.6" />
<path d="M909.2,805.1 A88,88 0 1 1 891.6,948.2" stroke-width="1.5" stroke-dasharray="6.5 3.6" />
<path d="M909.7,806.0 L916.8,805.3 L923.8,805.3 L930.6,805.8 L937.1,807.0 L942.8,806.6 L948.5,806.6 L954.1,807.0 L959.7,807.9 L965.1,808.9 L970.3,810.4 L975.4,812.2 L980.4,814.3 L985.2,816.9 L989.8,819.7 L994.1,822.9 L998.2,826.4 L1002.0,830.1 L1005.5,834.1 L1008.8,838.3 L1011.7,842.8 L1014.2,847.4 L1016.4,852.2 L1018.3,857.1 L1019.8,862.1 L1020.9,867.3 L1021.6,872.4 L1022.0,877.6 L1022.0,882.8 L1021.6,887.9 L1020.9,892.9 L1019.8,897.9 L1018.4,902.7 L1016.6,907.5 L1014.5,912.0 L1012.1,916.5 L1009.4,920.7 L1006.4,924.7 L1003.2,928.4 L999.6,931.9 L995.9,935.2 L991.9,938.1 L987.8,940.8 L983.5,943.2 L979.0,945.2 L974.4,946.9 L969.7,948.3 L965.0,949.3 L960.2,950.0 L955.3,950.3 L950.5,950.3 L945.8,949.6 L941.2,948.7 L936.8,947.4 L932.4,945.8 L928.3,943.9 L924.3,941.7 L920.5,939.3 " stroke-width="1.5" stroke-dasharray="6.5 3.6" />
<path d="M973.6,842.8 A46.2,46.2 0 0 1 942.5,928.3" stroke-width="1.5" stroke-dasharray="6.5 3.6" />
<path d="M942.5,929.2 Q930,928 918,935 L880,958 Q873,962.5 872.2,968 V979" stroke-width="1.5" stroke-dasharray="6.5 3.6" />
<path d="M962.8,864.8 Q973,872 973.6,883 Q973.5,895 962,905 Q948,916 928.9,927.4" stroke-width="1.5" stroke-dasharray="6.5 3.6" />
<path d="M829.9,979 V965 Q829.5,960 822.3,958.2" stroke-width="1.5" stroke-dasharray="6.5 3.6" />
<path d="M805,988 V979.8 H896.8 V988" stroke-width="1.5" stroke-dasharray="6.5 3.6" />
<path d="M805,988 H812 M814,989.5 H826 L828,988 H838 L840,989.5 H861 L863,988 H873 L875,989.5 H887 M889,988 H896.8" stroke-width="1.5" stroke-dasharray="7 2.5" />
<path d="M726.9,864.4 V821.8 H753.2" stroke-width="1.5" stroke-dasharray="7 3.5" />
<path d="M753.2,821.8 V864.4 H726.9 M732.4,864.4 V845.8 H749" stroke-width="1.3" />
<path d="M748,821.8 V830.6 H750.5 M748,839 V835.2 H753.2" stroke-width="1.2" />
<circle cx="741.2" cy="830.6" r="3.5" stroke-width="1.2" />
<line x1="733.3" y1="830.6" x2="750.0" y2="830.6" stroke-width="1.2" />
<circle cx="740.9" cy="855.4" r="7.4" stroke-width="1.3" />
<circle cx="740.9" cy="855.4" r="3.5" stroke-width="1.2" />
<line x1="723.6" y1="855.4" x2="756.5" y2="855.4" stroke-width="1.2" />
<path d="M946.1,864.4 V821.8 H971.1 V830" stroke-width="1.5" stroke-dasharray="7 3.5" />
<path d="M971.1,834 V838 L967,842 V848" stroke-width="1.3" stroke-dasharray="5 2.5" />
<path d="M946.1,864.4 H972 M951.7,855 V846.3 H967.4" stroke-width="1.3" />
<path d="M965.5,822.5 V829" stroke-width="1.2" />
<circle cx="960.3" cy="830.6" r="3.5" stroke-width="1.2" />
<line x1="952.0" y1="830.6" x2="964.6" y2="830.6" stroke-width="1.2" />
<path d="M953.5,851.4 A7.9,7.9 0 1 1 958.9,863.2" stroke-width="1.3" />
<circle cx="960.3" cy="855.4" r="3.5" stroke-width="1.2" />
<path d="M836.7,983.2 V941.3 H862.1 V983.2" stroke-width="1.5" stroke-dasharray="7 3.5" />
<path d="M843,981.5 V966.6 H858.7" stroke-width="1.3" />
<circle cx="850.7" cy="949.9" r="4.0" stroke-width="1.2" />
<line x1="843.5" y1="949.9" x2="857.5" y2="949.9" stroke-width="1.2" />
<circle cx="850.7" cy="974.4" r="7.4" stroke-width="1.3" />
<circle cx="850.7" cy="974.4" r="3.8" stroke-width="1.2" />
<circle cx="850.7" cy="974.4" r="1.2" stroke-width="1.0" fill="#1d1d1b" />
<circle cx="696.1" cy="882.8" r="4.8" stroke-width="1.3" />
<line x1="696.1" y1="873.8" x2="696.1" y2="891.8" stroke-width="1.2" />
<circle cx="1012.7" cy="882.8" r="4.8" stroke-width="1.3" />
<line x1="1012.7" y1="873.8" x2="1012.7" y2="891.8" stroke-width="1.2" />
<line x1="650.0" y1="882.8" x2="1030.0" y2="882.8" stroke-width="1.3" stroke-dasharray="30 5 9 5" stroke-dashoffset="12"/>
<line x1="850.7" y1="760.6" x2="850.7" y2="993.0" stroke-width="1.3" stroke-dasharray="30 5 9 5" stroke-dashoffset="6"/>
<line x1="850.7" y1="760.6" x2="850.7" y2="737.0" />
<polygon points="850.7,717.4 857.7,739.4 843.7,739.4" fill="#1d1d1b" stroke="none"/>
<line x1="850.7" y1="1046.0" x2="850.7" y2="1022.0" />
<polygon points="850.7,1002.9 857.7,1024.9 843.7,1024.9" fill="#1d1d1b" stroke="none"/>
<line x1="741.2" y1="685.7" x2="741.2" y2="867.6" />
<line x1="960.3" y1="685.7" x2="960.3" y2="867.6" />
<line x1="741.2" y1="692.3" x2="960.3" y2="692.3" stroke-width="1.3" />
<polygon points="960.3,692.3 944.3,696.5 944.3,688.0" fill="#1d1d1b" stroke="none"/>
<polygon points="741.2,692.3 757.2,688.0 757.2,696.5" fill="#1d1d1b" stroke="none"/>
<text x="825.8" y="685.2" font-size="29" textLength="48.2" lengthAdjust="spacingAndGlyphs">440</text>
<line x1="964.6" y1="830.6" x2="1081.8" y2="830.6" />
<line x1="943.3" y1="855.4" x2="1125.0" y2="855.4" />
<line x1="1075.4" y1="780.9" x2="1075.4" y2="830.6" />
<polygon points="1075.4,830.6 1071.2,814.6 1079.7,814.6" fill="#1d1d1b" stroke="none"/>
<line x1="1075.4" y1="830.6" x2="1075.4" y2="877.3" />
<polygon points="1075.4,855.4 1079.7,871.4 1071.2,871.4" fill="#1d1d1b" stroke="none"/>
<text x="1068.8" y="808.2" font-size="29.5" transform="rotate(-90 1068.8 808.2)" textLength="28.5" lengthAdjust="spacingAndGlyphs">50</text>
<line x1="1118.6" y1="826.5" x2="1118.6" y2="855.4" />
<polygon points="1118.6,855.4 1114.3,839.4 1122.8,839.4" fill="#1d1d1b" stroke="none"/>
<line x1="1118.6" y1="855.4" x2="1118.6" y2="882.8" />
<line x1="1118.6" y1="882.8" x2="1118.6" y2="949.9" stroke-width="1.3" />
<polygon points="1118.6,949.9 1114.3,933.9 1122.8,933.9" fill="#1d1d1b" stroke="none"/>
<polygon points="1118.6,882.8 1122.8,898.8 1114.3,898.8" fill="#1d1d1b" stroke="none"/>
<line x1="1033.6" y1="882.8" x2="1125.0" y2="882.8" />
<line x1="854.5" y1="949.9" x2="1125.0" y2="949.9" />
<text x="1112.2" y="940.2" font-size="29.5" transform="rotate(-90 1112.2 940.2)" textLength="44.5" lengthAdjust="spacingAndGlyphs">188</text>
<line x1="914.2" y1="915.9" x2="914.2" y2="949.9" />
<polygon points="914.2,949.9 910.0,933.9 918.5,933.9" fill="#1d1d1b" stroke="none"/>
<line x1="914.2" y1="974.4" x2="914.2" y2="1032.0" />
<polygon points="914.2,974.4 918.5,990.4 910.0,990.4" fill="#1d1d1b" stroke="none"/>
<line x1="840.9" y1="974.4" x2="920.4" y2="974.4" />
<text x="908.0" y="1030.0" font-size="29.5" transform="rotate(-90 908.0 1030.0)" textLength="28.5" lengthAdjust="spacingAndGlyphs">50</text>
<line x1="782.5" y1="945.7" x2="850.7" y2="945.7" />
<line x1="782.5" y1="954.1" x2="850.7" y2="954.1" />
<line x1="788.8" y1="913.0" x2="788.8" y2="945.7" />
<polygon points="788.8,945.7 784.5,929.7 793.0,929.7" fill="#1d1d1b" stroke="none"/>
<line x1="788.8" y1="954.1" x2="788.8" y2="1032.8" />
<polygon points="788.8,954.1 793.0,970.1 784.5,970.1" fill="#1d1d1b" stroke="none"/>
<text x="779.9" y="1032.5" font-size="29.5" transform="rotate(-90 779.9 1032.5)" textLength="49" lengthAdjust="spacingAndGlyphs">Ø18</text>
</g>
</svg>
</body></html>
